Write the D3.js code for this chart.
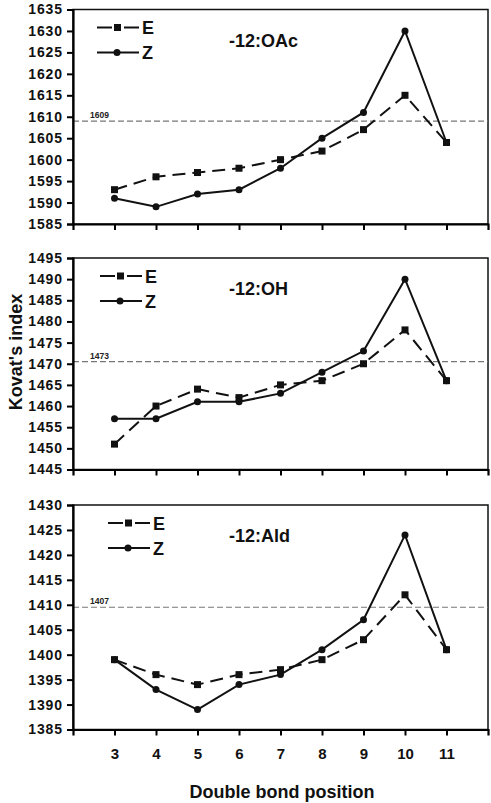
<!DOCTYPE html>
<html>
<head>
<meta charset="utf-8">
<script src="https://cdn.jsdelivr.net/npm/d3@7"></script>
<style>
  body { margin: 0; background: #fff; }
  svg { font-family: "Liberation Sans", Arial, sans-serif; font-weight: bold; }
</style>
</head>
<body>
<script>
// Data
var positions = [3, 4, 5, 6, 7, 8, 9, 10, 11];
var xTicks = [3, 4, 5, 6, 7, 8, 9, 10, 11];

var oacE = [1593, 1596, 1597, 1598, 1600, 1602, 1607, 1615, 1604];
var oacZ = [1591, 1589, 1592, 1593, 1598, 1605, 1611, 1630, 1604];
var ohE = [1451, 1460, 1464, 1462, 1465, 1466, 1470, 1478, 1466];
var ohZ = [1457, 1457, 1461, 1461, 1463, 1468, 1473, 1490, 1466];
var aldE = [1399, 1396, 1394, 1396, 1397, 1399, 1403, 1412, 1401];
var aldZ = [1399, 1393, 1389, 1394, 1396, 1401, 1407, 1424, 1401];

var panelTitles = ["-12:OAc", "-12:OH", "-12:Ald"];
var yDomains = [[1585, 1635], [1445, 1495], [1385, 1430]];
var refValues = [1609, 1470.5, 1409.5];
var refLabels = ["1609", "1473", "1407"];

var svgWidth = 491;
var svgHeight = 803;

var left = 73, right = 488;
// top / bottom pixel of each panel
var panelBox = [[9.5, 224], [258, 469.5], [505, 729.5]];
var legendX = [97, 100, 108];

var svg = d3.select("body")
  .append("svg")
  .attr("width", svgWidth)
  .attr("height", svgHeight);

var xScale = d3.scaleLinear()
  .domain([2, 12])
  .range([left, right]);

var panels = [
  { title: panelTitles[0], e: oacE, z: oacZ },
  { title: panelTitles[1], e: ohE, z: ohZ },
  { title: panelTitles[2], e: aldE, z: aldZ }
];

panels.forEach(function(p, i) {
  var top = panelBox[i][0], bottom = panelBox[i][1];
  var yScale = d3.scaleLinear().domain(yDomains[i]).range([bottom, top]);
  var g = svg.append("g");

  // frame
  g.append("rect")
    .attr("x", left).attr("y", top)
    .attr("width", right - left).attr("height", bottom - top)
    .attr("fill", "none").attr("stroke", "#111").attr("stroke-width", 1.5);

  // reference line
  g.append("line")
    .attr("x1", left).attr("x2", right)
    .attr("y1", yScale(refValues[i])).attr("y2", yScale(refValues[i]))
    .attr("stroke", "#777").attr("stroke-width", 1.2)
    .attr("stroke-dasharray", "6,3");
  g.append("text")
    .attr("x", 90).attr("y", yScale(refValues[i]) - 3)
    .attr("font-size", "8.5px")
    .attr("fill", "#222")
    .text(refLabels[i]);

  // y axis
  var ticks = d3.range(yDomains[i][0], yDomains[i][1] + 1, 5);
  var yAxis = g.append("g")
    .attr("transform", "translate(" + left + ",0)")
    .call(d3.axisLeft(yScale).tickValues(ticks).tickSize(6).tickPadding(4).tickFormat(d3.format("d")));
  yAxis.select(".domain").attr("stroke-width", 2.2);
  yAxis.selectAll(".tick line").attr("stroke-width", 2);
  yAxis.selectAll("text")
    .attr("font-size", "14px")
    .attr("letter-spacing", "0.9px")
    .attr("font-family", "Liberation Sans, Arial, sans-serif")
    .attr("font-weight", "bold")
    .attr("fill", "#111");

  // x axis
  var xAxis = g.append("g")
    .attr("transform", "translate(0," + bottom + ")")
    .call(d3.axisBottom(xScale).tickValues(xTicks).tickSize(6).tickPadding(13)
      .tickFormat(i === 2 ? d3.format("d") : ""));
  xAxis.select(".domain").attr("stroke-width", 2.2);
  xAxis.selectAll(".tick line").attr("stroke-width", 2);
  xAxis.selectAll("text")
    .attr("font-size", "15px")
    .attr("font-family", "Liberation Sans, Arial, sans-serif")
    .attr("font-weight", "bold")
    .attr("fill", "#111");

  var line = d3.line()
    .x(function(d, k) { return xScale(positions[k]); })
    .y(function(d) { return yScale(d); });

  // E series (dashed, squares)
  g.append("path")
    .datum(p.e)
    .attr("d", line)
    .attr("fill", "none").attr("stroke", "#111").attr("stroke-width", 2)
    .attr("stroke-dasharray", "13,7");
  g.selectAll(".sq")
    .data(p.e)
    .enter().append("rect")
    .attr("x", function(d, k) { return xScale(positions[k]) - 3.5; })
    .attr("y", function(d) { return yScale(d) - 3.5; })
    .attr("width", 7).attr("height", 7)
    .attr("fill", "#111");

  // Z series (solid, circles)
  g.append("path")
    .datum(p.z)
    .attr("d", line)
    .attr("fill", "none").attr("stroke", "#111").attr("stroke-width", 2);
  g.selectAll(".dot")
    .data(p.z)
    .enter().append("circle")
    .attr("cx", function(d, k) { return xScale(positions[k]); })
    .attr("cy", function(d) { return yScale(d); })
    .attr("r", 3.5)
    .attr("fill", "#111");

  // legend
  var lx = legendX[i];
  var eY = top + 18, zY = top + 43;
  g.append("line").attr("x1", lx).attr("x2", lx + 15).attr("y1", eY).attr("y2", eY)
    .attr("stroke", "#111").attr("stroke-width", 2);
  g.append("line").attr("x1", lx + 27).attr("x2", lx + 42).attr("y1", eY).attr("y2", eY)
    .attr("stroke", "#111").attr("stroke-width", 2);
  g.append("rect").attr("x", lx + 17).attr("y", eY - 3.5).attr("width", 7).attr("height", 7)
    .attr("fill", "#111");
  g.append("text").attr("x", lx + 45).attr("y", eY + 6.5)
    .attr("font-size", "18px").attr("fill", "#111").text("E");

  g.append("line").attr("x1", lx).attr("x2", lx + 42).attr("y1", zY).attr("y2", zY)
    .attr("stroke", "#111").attr("stroke-width", 2);
  g.append("circle").attr("cx", lx + 20).attr("cy", zY).attr("r", 3.5).attr("fill", "#111");
  g.append("text").attr("x", lx + 45).attr("y", zY + 6.5)
    .attr("font-size", "18px").attr("fill", "#111").text("Z");

  // panel title
  g.append("text")
    .attr("x", 229).attr("y", top + 37)
    .attr("font-size", "18px").attr("fill", "#111")
    .text(p.title);
});

// axis titles
svg.append("text")
  .attr("transform", "rotate(-90)")
  .attr("x", -352).attr("y", 22)
  .attr("text-anchor", "middle")
  .attr("font-size", "18px").attr("fill", "#111")
  .text("Kovat's index");

svg.append("text")
  .attr("x", 282).attr("y", 798)
  .attr("text-anchor", "middle")
  .attr("font-size", "18px").attr("fill", "#111")
  .text("Double bond position");
</script>
</body>
</html>
